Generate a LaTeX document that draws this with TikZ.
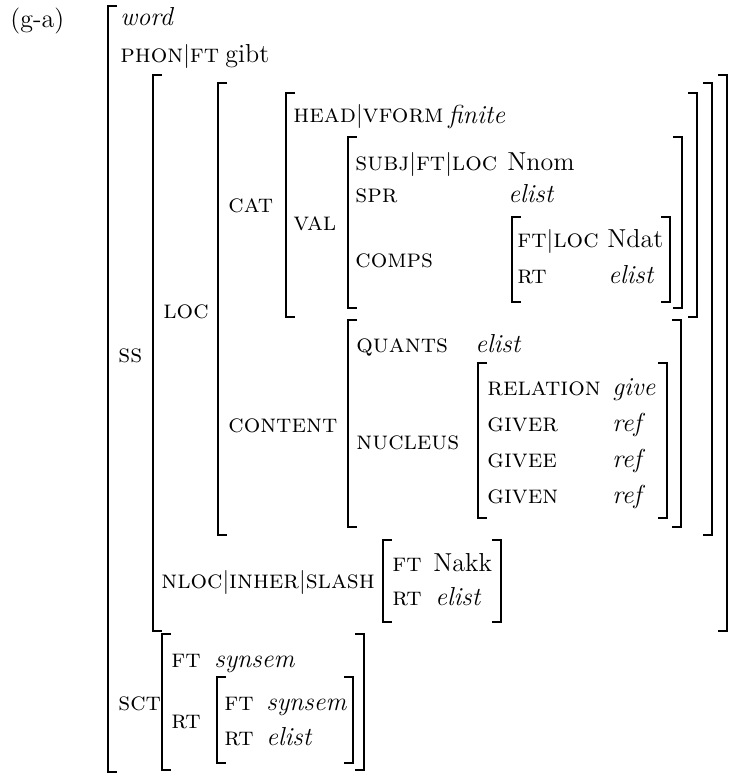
\documentclass[tikz,border=0pt]{standalone}
\usepackage{fontspec}
\newcommand\avmfs{\fontsize{13}{15}\selectfont}
\newcommand\lbrk[3]{\draw[brk] ({#1+9},#2) -- (#1,#2) -- (#1,#3) -- ({#1+9},#3);}
\newcommand\rbrk[3]{\draw[brk] ({#1-9},#2) -- (#1,#2) -- (#1,#3) -- ({#1-9},#3);}
\begin{document}
\begin{tikzpicture}[x=0.5pt,y=-0.5pt,
  brk/.style={line width=0.7pt, line join=miter},
  lab/.style={anchor=base west, inner sep=0pt, font=\avmfs\scshape},
  val/.style={anchor=base west, inner sep=0pt, font=\avmfs},
  ival/.style={anchor=base west, inner sep=0pt, font=\avmfs\itshape}]
\useasboundingbox (0,0) rectangle (733,775);
% texts
\node[val] (ga) at (10,28) {(g-a)};
\node[ival] (word) at (120,26) {word};
\node[lab] (phon) at (120,63) {phon$|$ft};
\node[val] (gibt) at (225,63) {gibt};
\node[lab] (ss) at (118,362) {ss};
\node[lab] (loc) at (163,318) {loc};
\node[lab] (cat) at (228,213) {cat};
\node[lab] (head) at (293,123) {head$|$vform};
\node[ival] (finite) at (448,124) {finite};
\node[lab] (val) at (293,230) {val};
\node[lab] (subj) at (355,170) {subj$|$ft$|$loc};
\node[val] (nnom) at (507,170) {Nnom};
\node[lab] (spr) at (355,203) {spr};
\node[ival] (sprv) at (508,203) {elist};
\node[lab] (comps) at (355,267) {comps};
\node[lab] (cft) at (517,248) {ft$|$loc};
\node[val] (ndat) at (607,248) {Ndat};
\node[lab] (crt) at (517,283) {rt};
\node[ival] (crtv) at (608,283) {elist};
\node[lab] (content) at (228,432) {content};
\node[lab] (quants) at (356,352) {quants};
\node[ival] (quantsv) at (475,352) {elist};
\node[lab] (nucleus) at (356,449) {nucleus};
\node[lab] (rel) at (487,395) {relation};
\node[ival] (relv) at (612,395) {give};
\node[lab] (giver) at (487,431) {giver};
\node[ival] (giverv) at (612,431) {ref};
\node[lab] (givee) at (487,467) {givee};
\node[ival] (giveev) at (612,467) {ref};
\node[lab] (given) at (487,503) {given};
\node[ival] (givenv) at (612,503) {ref};
\node[lab] (nloc) at (161,588) {nloc$|$inher$|$slash};
\node[lab] (nft) at (392,571) {ft};
\node[val] (nakk) at (433,571) {Nakk};
\node[lab] (nrt) at (392,605) {rt};
\node[ival] (nrtv) at (435,605) {elist};
\node[lab] (sct) at (118,710) {sct};
\node[lab] (sft) at (171,667) {ft};
\node[ival] (sftv) at (214,667) {synsem};
\node[lab] (srt) at (171,728) {rt};
\node[lab] (ift) at (224,710) {ft};
\node[ival] (iftv) at (266,710) {synsem};
\node[lab] (irt) at (224,745) {rt};
\node[ival] (irtv) at (266,745) {elist};
% brackets
\lbrk{108}{6}{772}
\lbrk{153}{75}{631} \rbrk{727}{75}{631}
\lbrk{218}{83}{535} \rbrk{712}{83}{535}
\lbrk{286}{93}{317} \rbrk{697}{93}{317}
\lbrk{348}{137}{308} \rbrk{682}{137}{308}
\lbrk{512}{217}{302} \rbrk{670}{217}{302}
\lbrk{348}{320}{527} \rbrk{681}{320}{527}
\lbrk{478}{363}{518} \rbrk{667}{363}{518}
\lbrk{383}{540}{622} \rbrk{501}{540}{622}
\lbrk{162}{634}{770} \rbrk{364}{634}{770}
\lbrk{217}{677}{763} \rbrk{353}{677}{763}
\end{tikzpicture}
\end{document}
